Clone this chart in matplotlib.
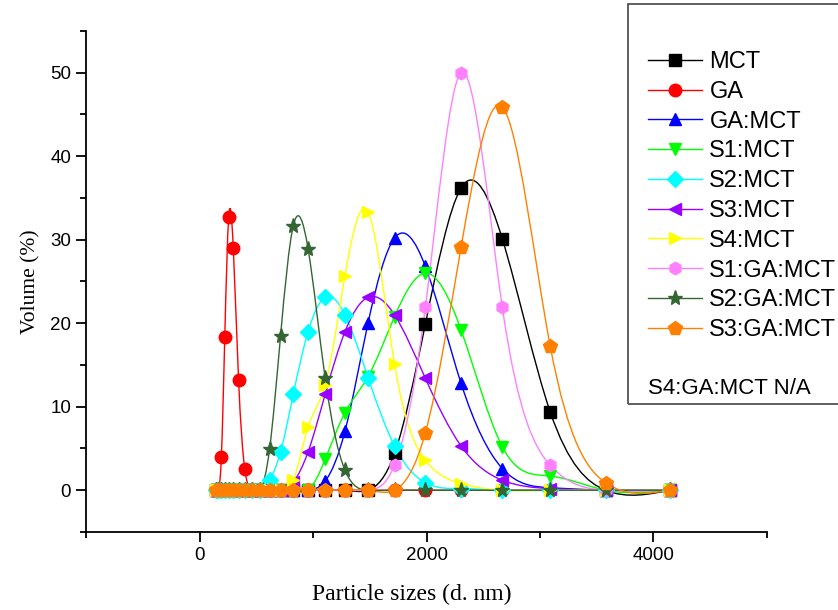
import numpy as np
import matplotlib
matplotlib.use("Agg")
import matplotlib.pyplot as plt
from matplotlib.path import Path
from matplotlib.patches import PathPatch, Rectangle
from matplotlib.lines import Line2D
from matplotlib.ticker import MultipleLocator

# DLS size bins (d. nm)
sizes = [141.8, 164.2, 190.1, 220.2, 255.0, 295.3, 342.0, 396.1, 458.7, 531.2,
         615.1, 712.4, 825.0, 955.4, 1106, 1281, 1484, 1718, 1990, 2305,
         2669, 3091, 3580, 4145]

mct = [0, 0, 0, 0, 0, 0, 0, 0, 0, 0, 0, 0, 0, 0, 0, 0, 0,
       4.4, 19.9, 36.2, 30.1, 9.4, 0, 0]
ga = [0, 0, 4.0, 18.4, 32.7, 29.0, 13.2, 2.6, 0, 0, 0, 0, 0, 0, 0, 0, 0,
      0, 0, 0, 0, 0, 0, 0]
ga_mct = [0, 0, 0, 0, 0, 0, 0, 0, 0, 0, 0, 0, 0, 0,
          1.1, 7.1, 20.0, 30.2, 26.8, 12.8, 2.6, 0.3, 0, 0]
s1_mct = [0, 0, 0, 0, 0, 0, 0, 0, 0, 0, 0, 0, 0, 0,
          3.7, 9.3, 13.6, 20.8, 26.0, 19.2, 5.2, 1.7, 0, 0]
s2_mct = [0, 0, 0, 0, 0, 0, 0, 0, 0, 0,
          1.2, 4.6, 11.5, 19.0, 23.1, 21.0, 13.5, 5.3, 0.9, 0.2, 0, 0, 0, 0]
s3_mct = [0, 0, 0, 0, 0, 0, 0, 0, 0, 0, 0, 0,
          1.0, 4.6, 11.5, 19.0, 23.1, 21.0, 13.4, 5.3, 1.2, 0.2, 0, 0]
s4_mct = [0, 0, 0, 0, 0, 0, 0, 0, 0, 0, 0, 0,
          1.2, 7.6, 12.6, 25.7, 33.3, 15.1, 3.6, 0.8, 0, 0, 0, 0]
s1_ga_mct = [0, 0, 0, 0, 0, 0, 0, 0, 0, 0, 0, 0, 0, 0, 0, 0, 0,
             3.0, 21.9, 50.0, 21.9, 3.0, 0, 0]
s2_ga_mct = [0, 0, 0, 0, 0, 0, 0, 0, 0, 0,
             4.9, 18.5, 31.7, 28.9, 13.4, 2.4, 0, 0, 0, 0, 0, 0, 0, 0]
s3_ga_mct = [0, 0, 0, 0, 0, 0, 0, 0, 0, 0, 0, 0, 0, 0, 0, 0, 0,
             0, 6.9, 29.1, 45.9, 17.3, 0.9, 0]

labels = ["MCT", "GA", "GA:MCT", "S1:MCT", "S2:MCT", "S3:MCT", "S4:MCT",
          "S1:GA:MCT", "S2:GA:MCT", "S3:GA:MCT"]
series = [mct, ga, ga_mct, s1_mct, s2_mct, s3_mct, s4_mct,
          s1_ga_mct, s2_ga_mct, s3_ga_mct]
colors = ["#000000", "#FF0000", "#0000FF", "#00FF00", "#00FFFF", "#9A00FF",
          "#FFFF00", "#FF80FF", "#336633", "#FF8000"]
markers = ["s", "o", "^", "v", "D", "<", ">", "h", "*", "p"]
msizes = [8, 9, 9, 9, 8, 9, 9, 9, 11, 10]


def spline_path(x, y):
    """Natural cubic spline through the points, as a Bezier path (Origin 'spline' connect)."""
    x = np.asarray(x, float)
    y = np.asarray(y, float)
    n = len(x)
    h = np.diff(x)
    A = np.zeros((n, n))
    b = np.zeros(n)
    A[0, 0] = A[-1, -1] = 1
    for i in range(1, n - 1):
        A[i, i - 1] = h[i - 1]
        A[i, i] = 2 * (h[i - 1] + h[i])
        A[i, i + 1] = h[i]
        b[i] = 6 * ((y[i + 1] - y[i]) / h[i] - (y[i] - y[i - 1]) / h[i - 1])
    M = np.linalg.solve(A, b)
    d = np.zeros(n)
    d[:-1] = (y[1:] - y[:-1]) / h - h * (2 * M[:-1] + M[1:]) / 6
    d[-1] = (y[-1] - y[-2]) / h[-1] + h[-1] * (M[-2] + 2 * M[-1]) / 6
    verts = [(x[0], y[0])]
    codes = [Path.MOVETO]
    for i in range(n - 1):
        verts += [(x[i] + h[i] / 3, y[i] + d[i] * h[i] / 3),
                  (x[i + 1] - h[i] / 3, y[i + 1] - d[i + 1] * h[i] / 3),
                  (x[i + 1], y[i + 1])]
        codes += [Path.CURVE4] * 3
    return Path(verts, codes)


fig = plt.figure(figsize=(8.38, 6.10), dpi=100)
ax = fig.add_axes([0.1032, 0.1279, 0.8115, 0.8213])

handles = []
for ys, lab, c, m, ms in zip(series, labels, colors, markers, msizes):
    ax.add_patch(PathPatch(spline_path(sizes, ys), facecolor="none",
                           edgecolor=c, lw=1.0))
    ax.plot(sizes, ys, linestyle="none", marker=m, color=c, markersize=ms,
            markeredgecolor=c)
    handles.append(Line2D([], [], color=c, lw=1.0, marker=m, markersize=ms,
                          markeredgecolor=c))

ax.set_xlim(-1000, 5000)
ax.set_ylim(-5, 55)
ax.xaxis.set_major_locator(MultipleLocator(2000))
ax.xaxis.set_minor_locator(MultipleLocator(1000))
ax.yaxis.set_major_locator(MultipleLocator(10))
ax.yaxis.set_minor_locator(MultipleLocator(5))
for s in ["top", "right"]:
    ax.spines[s].set_visible(False)
for s in ["left", "bottom"]:
    ax.spines[s].set_linewidth(1.3)
ax.tick_params(which="major", direction="out", length=7, width=1.3,
               labelsize=13.5, pad=4)
ax.tick_params(which="minor", direction="out", length=4, width=1.3)
for t in ax.get_xticklabels() + ax.get_yticklabels():
    t.set_fontfamily("Liberation Sans")

ax.set_xlabel("Particle sizes (d. nm)", fontfamily="Liberation Serif",
              fontsize=17)
ax.xaxis.set_label_coords(0.479, -0.104)
ax.set_ylabel("Volume (%)", fontfamily="Liberation Serif", fontsize=15.5)
ax.yaxis.set_label_coords(-0.067, 0.5)

# legend box (runs off the right edge)
fig.add_artist(Rectangle((628 / 838, 1 - 404 / 610), 0.4, 400 / 610,
                         transform=fig.transFigure, fill=False,
                         edgecolor="#444444", lw=1.2, clip_on=False))
leg = fig.legend(handles, labels, loc="upper left",
                 bbox_to_anchor=(648 / 838, 1 - 51 / 610), frameon=False,
                 prop={"family": "Liberation Sans", "size": 17},
                 handlelength=2.3, handletextpad=0.3, labelspacing=0.33,
                 borderpad=0, borderaxespad=0)
fig.text(648 / 838, 1 - 388 / 610, "S4:GA:MCT N/A", fontfamily="Liberation Sans",
         fontsize=16, va="center", ha="left")

fig.savefig("out.png", dpi=100, facecolor="white")
